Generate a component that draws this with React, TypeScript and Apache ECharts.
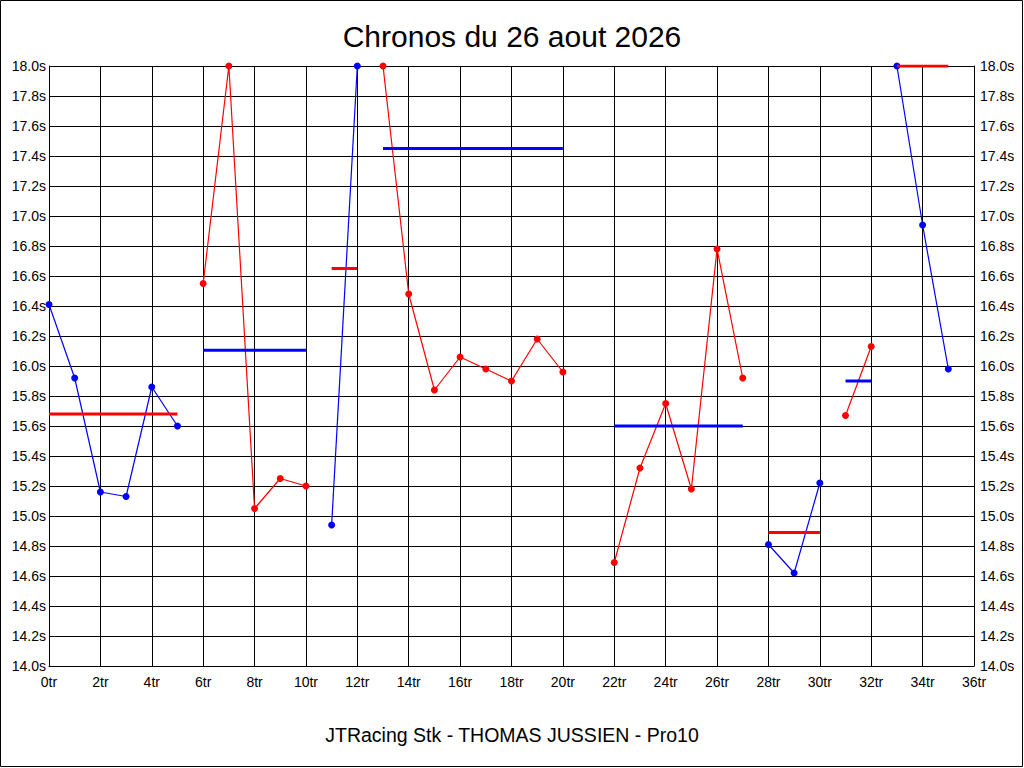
import React, { useEffect, useRef } from "react";
import * as echarts from "echarts";

const titleText = "Chronos du 26 aout 2026";
const footerText = "JTRacing Stk - THOMAS JUSSIEN - Pro10";

// first lap number of each stint
const stintStarts = [0, 6, 11, 13, 22, 28, 31, 33];
// lap times (seconds) for each stint
const stint1 = [16.41, 15.92, 15.16, 15.13, 15.86, 15.6];
const stint2 = [16.55, 18.0, 15.05, 15.25, 15.2];
const stint3 = [14.94, 18.0];
const stint4 = [18.0, 16.48, 15.84, 16.06, 15.98, 15.9, 16.18, 15.96];
const stint5 = [14.69, 15.32, 15.75, 15.18, 16.78, 15.92];
const stint6 = [14.81, 14.62, 15.22];
const stint7 = [15.67, 16.13];
const stint8 = [18.0, 16.94, 15.98];
const stintTimes = [stint1, stint2, stint3, stint4, stint5, stint6, stint7, stint8];
// average line of each stint
const stintAverages = [15.68, 16.105, 16.65, 17.45, 15.6, 14.89, 15.9, 18.0];

const xMin = 0;
const xMax = 36;
const xStep = 2;
const yMin = 14;
const yMax = 18;
const yStep = 0.2;

const BLUE = "#0000ff";
const RED = "#ff0000";
const lineColors = [BLUE, RED, BLUE, RED, RED, BLUE, RED, BLUE];
const avgColors = [RED, BLUE, RED, BLUE, BLUE, RED, BLUE, RED];
const FONT = "Liberation Sans, Arial, sans-serif";

export default function App() {
  const ref = useRef<HTMLDivElement>(null);

  useEffect(() => {
    if (!ref.current) return;
    const chart = echarts.init(ref.current, undefined, { renderer: "svg" });

    const series: any[] = [];
    stintTimes.forEach((times, i) => {
      const start = stintStarts[i];
      const lineColor = lineColors[i];
      const avgColor = avgColors[i];
      series.push({
        type: "line",
        data: times.map((t, k) => [start + k, t]),
        symbol: "circle",
        symbolSize: 7,
        showSymbol: true,
        lineStyle: { color: lineColor, width: 1.2 },
        itemStyle: { color: lineColor },
        z: 3,
      });
      const end = start + times.length - 1;
      series.push({
        type: "line",
        data: [
          [start, stintAverages[i]],
          [end, stintAverages[i]],
        ],
        showSymbol: false,
        symbol: "none",
        lineStyle: { color: avgColor, width: 3 },
        z: 4,
      });
    });

    const yLabel = {
      fontSize: 14,
      color: "#000",
      fontFamily: FONT,
      formatter: (v: number) => v.toFixed(1) + "s",
    };

    chart.setOption({
      animation: false,
      backgroundColor: "#fff",
      title: {
        text: titleText,
        left: "center",
        top: 16,
        textStyle: { fontSize: 30, fontWeight: "normal", color: "#000", fontFamily: FONT },
      },
      grid: { left: 49, right: 50, top: 66, bottom: 102, containLabel: false },
      xAxis: {
        type: "value",
        min: xMin,
        max: xMax,
        interval: xStep,
        axisLine: { show: true, onZero: false, lineStyle: { color: "#000", width: 1 } },
        axisTick: { show: false },
        splitLine: { show: true, lineStyle: { color: "#000", width: 1 } },
        axisLabel: {
          fontSize: 14,
          color: "#000",
          fontFamily: FONT,
          margin: 9,
          formatter: (v: number) => v + "tr",
        },
      },
      yAxis: [
        {
          type: "value",
          min: yMin,
          max: yMax,
          interval: yStep,
          position: "left",
          axisLine: { show: true, lineStyle: { color: "#000", width: 1 } },
          axisTick: { show: false },
          splitLine: { show: true, lineStyle: { color: "#000", width: 1 } },
          axisLabel: { ...yLabel, margin: 3 },
        },
        {
          type: "value",
          min: yMin,
          max: yMax,
          interval: yStep,
          position: "right",
          axisLine: { show: true, lineStyle: { color: "#000", width: 1 } },
          axisTick: { show: false },
          splitLine: { show: false },
          axisLabel: { ...yLabel, margin: 6 },
        },
      ],
      graphic: [
        {
          type: "rect",
          shape: { x: 0.5, y: 0.5, width: 1022, height: 766 },
          style: { fill: "none", stroke: "#000", lineWidth: 1 },
          silent: true,
        },
        {
          type: "text",
          x: 512,
          y: 735,
          style: {
            text: footerText,
            fontSize: 19.5,
            fontFamily: FONT,
            fill: "#000",
            textAlign: "center",
            textVerticalAlign: "middle",
          },
        },
      ],
      series,
    });

    return () => chart.dispose();
  }, []);

  return (
    <div
      ref={ref}
      style={{ position: "fixed", left: 0, top: 0, width: 1024, height: 768, background: "#fff" }}
    />
  );
}
